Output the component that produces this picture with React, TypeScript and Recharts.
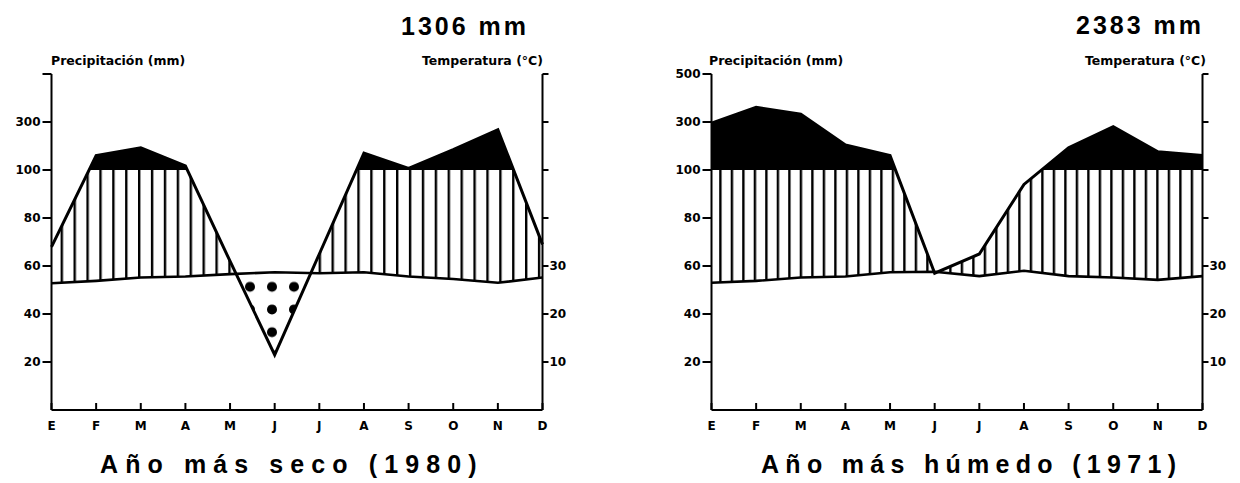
import { ComposedChart, Area, Line, XAxis, YAxis } from 'recharts';

const MONTHS = ['E', 'F', 'M', 'A', 'M', 'J', 'J', 'A', 'S', 'O', 'N', 'D'];

// precipitación mensual (mm) y temperatura media (°C)
const PRECIP_1980 = [68, 160, 193, 117, 62, 23, 65, 170, 107, 185, 268, 69];
const TEMP_1980 = [26.4, 26.9, 27.6, 27.8, 28.3, 28.7, 28.5, 28.7, 27.8, 27.3, 26.5, 27.6];
const PRECIP_1971 = [295, 361, 333, 204, 160, 57, 65, 94, 193, 280, 176, 160];
const TEMP_1971 = [26.5, 26.9, 27.6, 27.8, 28.7, 28.8, 27.9, 29.0, 27.9, 27.6, 27.1, 27.9];

const PRECIP_TICKS = [20, 40, 60, 80, 100, 300, 500];
const TEMP_TICKS = [10, 20, 30, 40, 50, 60, 70];
const TEMP_LABELS = [10, 20, 30];

// escala Walter-Lieth: por encima de 100 mm se comprime 1:10
const toScale = (mm: number) => (mm <= 100 ? mm : 100 + (mm - 100) / 10);

const SMALL = { fill: '#000', fontSize: 12, fontWeight: 700, fontFamily: 'DejaVu Sans' };
const BIG = { fill: '#000', fontSize: 25, fontWeight: 700, fontFamily: 'Liberation Sans' };
const AXIS = { stroke: '#000', strokeWidth: 2 };

// el punto 0 de la línea de precipitación genera los recortes encima/debajo de ella
function clipMaker(id: string) {
  return (props: any) => {
    const { index, points } = props;
    if (index !== 0 || !points) return <g key={`c-${index}`} />;
    const d = points.map((pt: any, i: number) => `${i ? 'L' : 'M'}${pt.x},${pt.y}`).join(' ');
    const x0 = points[0].x;
    const x1 = points[points.length - 1].x;
    return (
      <defs key="clips">
        <clipPath id={`${id}-below`}>
          <path d={`${d} L${x1},2000 L${x0},2000 Z`} />
        </clipPath>
        <clipPath id={`${id}-above`}>
          <path d={`${d} L${x1},-2000 L${x0},-2000 Z`} />
        </clipPath>
      </defs>
    );
  };
}

type Props = {
  id: string;
  left: number;
  precip: number[];
  temp: number[];
  showTop: boolean;
  hatchX: number;
  hatchW: number;
};

function ClimateChart({ id, left, precip, temp, showTop, hatchX, hatchW }: Props) {
  const data = precip.map((p, i) => ({ idx: i, p: toScale(p), t: temp[i], t2: temp[i] * 2 }));

  return (
    <div style={{ position: 'absolute', left, top: 0 }}>
      <ComposedChart width={580} height={483} data={data} margin={{ top: 74, right: 0.5, bottom: 43, left: 0 }}>
        <defs>
          <pattern id={`${id}-hatch`} patternUnits="userSpaceOnUse" x={hatchX} y={0} width={hatchW} height={10}>
            <rect x={0} y={0} width={2.4} height={10} fill="#000" />
          </pattern>
          <pattern id={`${id}-dots`} patternUnits="userSpaceOnUse" x={239} y={275.5} width={22} height={22.7}>
            <circle cx={11} cy={11.3} r={5} fill="#000" />
          </pattern>
        </defs>
        <XAxis
          dataKey="idx"
          type="number"
          domain={[0, 11]}
          ticks={MONTHS.map((_, i) => i)}
          tickFormatter={(i: number) => MONTHS[i]}
          interval={0}
          height={30}
          tickSize={-7}
          tickMargin={18}
          axisLine={AXIS}
          tickLine={AXIS}
          tick={SMALL}
        />
        <YAxis
          yAxisId="p"
          width={51.5}
          domain={[0, 140]}
          ticks={PRECIP_TICKS.map(toScale)}
          tickFormatter={(v: number, i: number) => (PRECIP_TICKS[i] === 500 && !showTop ? '' : String(PRECIP_TICKS[i]))}
          interval={0}
          tickSize={9}
          tickMargin={2}
          axisLine={AXIS}
          tickLine={AXIS}
          tick={SMALL}
        />
        <YAxis
          yAxisId="t"
          orientation="right"
          width={37}
          domain={[0, 70]}
          ticks={TEMP_TICKS}
          tickFormatter={(v: number) => (TEMP_LABELS.includes(v) ? String(v) : '')}
          interval={0}
          tickSize={6}
          tickMargin={1}
          axisLine={AXIS}
          tickLine={AXIS}
          tick={SMALL}
        />
        <Area
          yAxisId="p"
          type="linear"
          dataKey={(d: any) => [d.t2, 100]}
          fill={`url(#${id}-hatch)`}
          fillOpacity={1}
          stroke="none"
          style={{ clipPath: `url(#${id}-below)` }}
          isAnimationActive={false}
        />
        <Area
          yAxisId="p"
          type="linear"
          dataKey={(d: any) => [100, Math.max(d.p, 100)]}
          fill="#000"
          fillOpacity={1}
          stroke="none"
          style={{ clipPath: `url(#${id}-below)` }}
          isAnimationActive={false}
        />
        <Area
          yAxisId="p"
          type="linear"
          dataKey="t2"
          baseValue={0}
          fill={`url(#${id}-dots)`}
          fillOpacity={1}
          stroke="none"
          style={{ clipPath: `url(#${id}-above)` }}
          isAnimationActive={false}
        />
        <Line
          yAxisId="t"
          type="linear"
          dataKey="t"
          stroke="#000"
          strokeWidth={2.6}
          dot={false}
          activeDot={false}
          isAnimationActive={false}
        />
        <Line
          yAxisId="p"
          type="linear"
          dataKey="p"
          stroke="#000"
          strokeWidth={3}
          strokeLinejoin="miter"
          dot={clipMaker(id)}
          activeDot={false}
          isAnimationActive={false}
        />
      </ComposedChart>
    </div>
  );
}

export default function App() {
  return (
    <div style={{ position: 'absolute', left: 0, top: 0, width: 1240, height: 483, background: '#fff' }}>
      <ClimateChart id="seco" left={0} precip={PRECIP_1980} temp={TEMP_1980} showTop={false} hatchX={60.6} hatchW={12.9} />
      <ClimateChart id="humedo" left={660} precip={PRECIP_1971} temp={TEMP_1971} showTop={true} hatchX={59.2} hatchW={11.5} />
      <svg width={1240} height={483} style={{ position: 'absolute', left: 0, top: 0, pointerEvents: 'none' }}>
        <text x={401} y={35} {...BIG} letterSpacing={3}>1306 mm</text>
        <text x={1076} y={34} {...BIG} letterSpacing={3}>2383 mm</text>
        <text x={51} y={65} {...SMALL} fontSize={12.5}>Precipitación (mm)</text>
        <text x={543} y={65} {...SMALL} fontSize={12.5} textAnchor="end">Temperatura (°C)</text>
        <text x={709} y={65} {...SMALL} fontSize={12.5}>Precipitación (mm)</text>
        <text x={1206} y={65} {...SMALL} fontSize={12.5} textAnchor="end">Temperatura (°C)</text>
        <text x={100} y={473} {...BIG} letterSpacing={7.1}>Año más seco (1980)</text>
        <text x={761} y={473} {...BIG} letterSpacing={6.3}>Año más húmedo (1971)</text>
      </svg>
    </div>
  );
}
